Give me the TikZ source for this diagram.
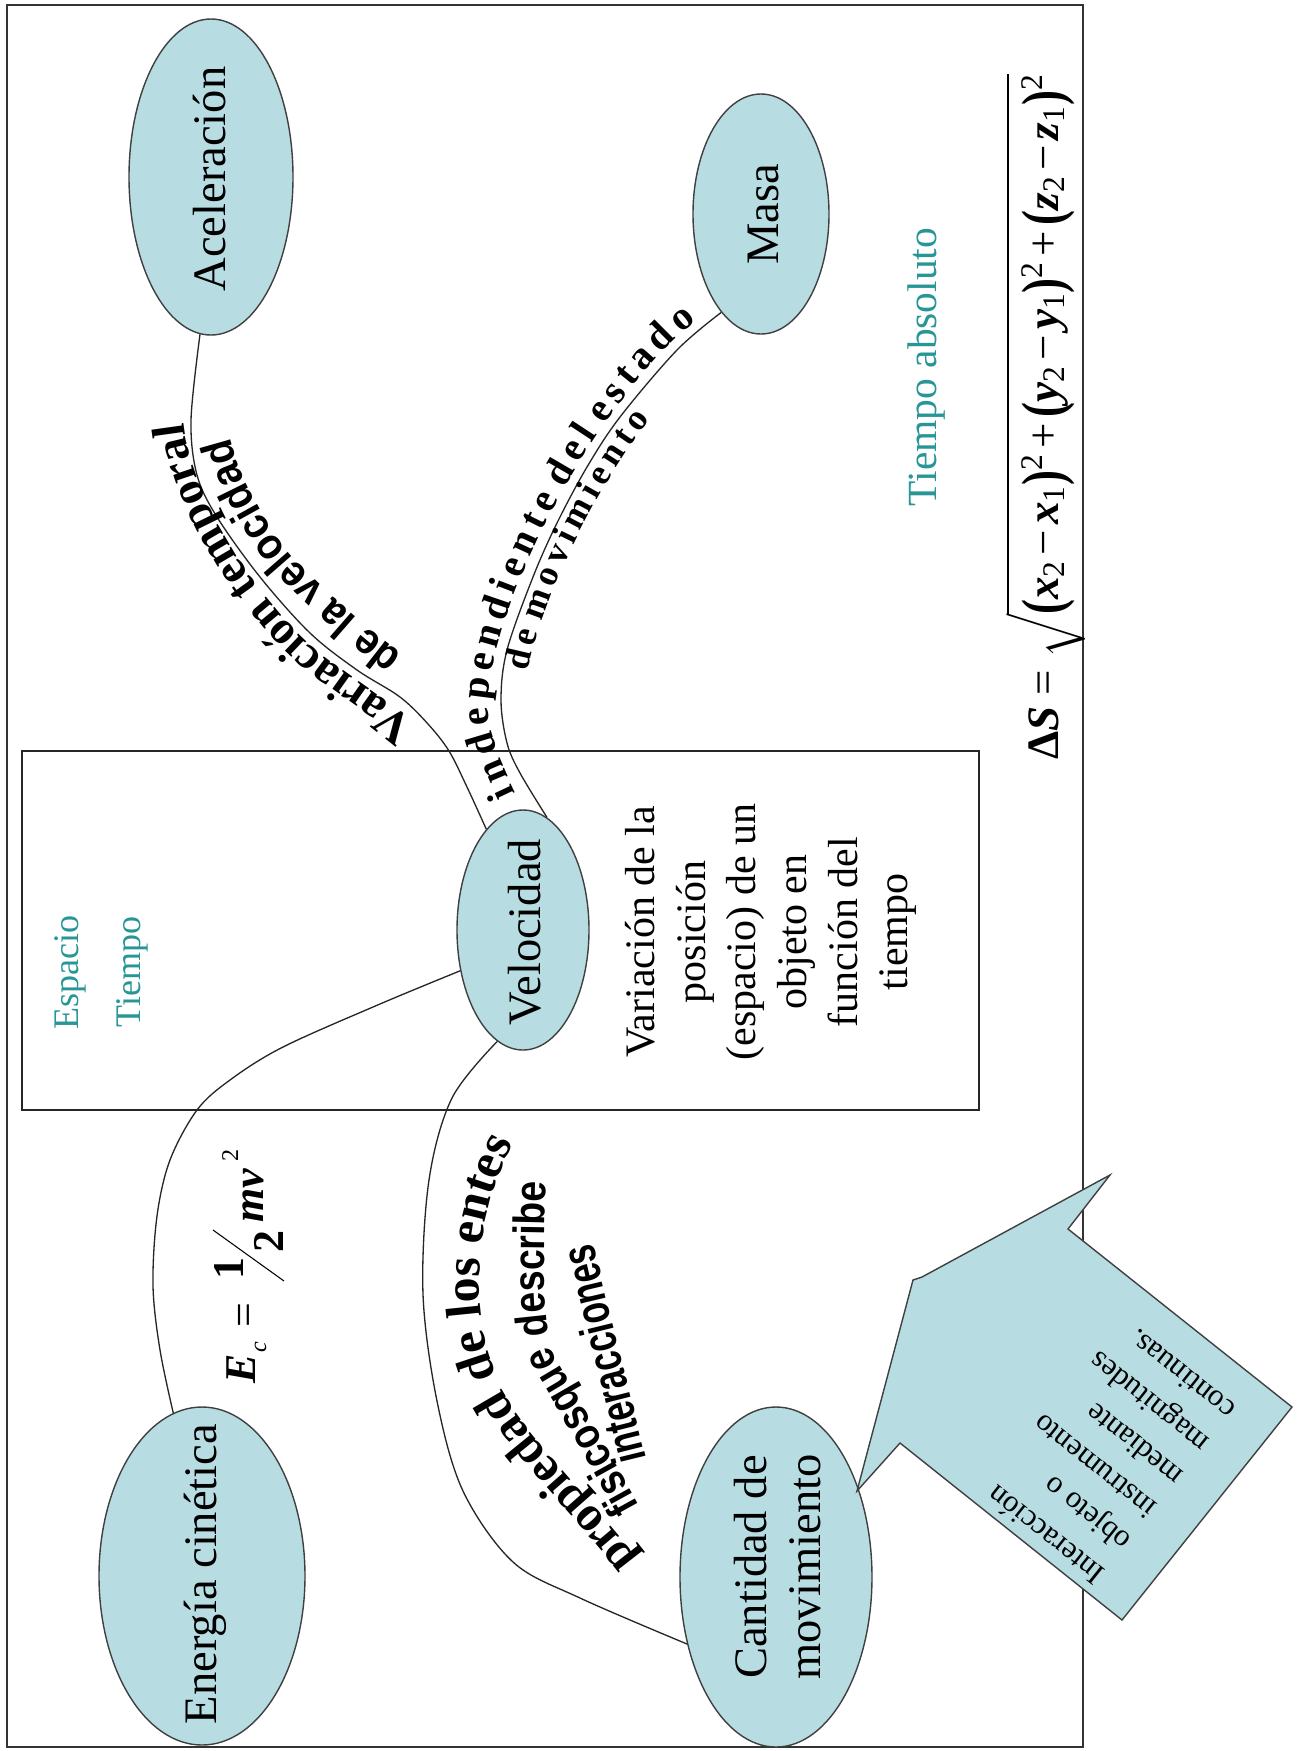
\documentclass[tikz,border=0pt]{standalone}
\usepackage{amsmath}
\usepackage{graphicx}
\usepackage{fontspec}
\setmainfont{Liberation Serif}
\newfontfamily\labsans{Liberation Sans}[FakeStretch=0.9]
\newfontfamily\labnarrow{Liberation Sans}[FakeStretch=0.85]
\newfontfamily\labcond{Liberation Sans}[FakeStretch=0.72]
\newfontfamily\labspaced{Liberation Serif}[WordSpace=0.6]
\usetikzlibrary{shapes.geometric,decorations.text}

\definecolor{bubblefill}{RGB}{183,221,227}
\definecolor{tealtext}{RGB}{40,150,150}
\newdimen\pxu \pxu=0.2mm

% font sizes (1 unit = 0.2mm)
\newcommand\ellfont{\fontsize{26.5pt}{30.7pt}\selectfont}
\newcommand\descfont{\fontsize{23.9pt}{28.8pt}\selectfont}
\newcommand\axisfont{\fontsize{20.5pt}{24pt}\selectfont}
\newcommand\absfont{\fontsize{23.6pt}{28pt}\selectfont}
\newcommand\labA{\fontsize{26.7pt}{30pt}\selectfont\bfseries}
\newcommand\labB{\labsans\fontsize{25pt}{30pt}\selectfont\bfseries}
\newcommand\labC{\labspaced\fontsize{22.8pt}{27pt}\selectfont\bfseries}
\newcommand\labD{\labspaced\fontsize{20.5pt}{24pt}\selectfont\bfseries}
\newcommand\labE{\fontsize{28.4pt}{32pt}\selectfont\bfseries}
\newcommand\labF{\labnarrow\fontsize{25pt}{30pt}\selectfont\bfseries}
\newcommand\labG{\labcond\fontsize{27.3pt}{32pt}\selectfont\bfseries}
\newcommand\calloutfont{\fontsize{17.6pt}{23.9pt}\selectfont}
\newcommand\eqfont{\fontsize{25pt}{30pt}\selectfont}
\newcommand\eqsmall{\fontsize{13.7pt}{16pt}\selectfont}
\newcommand\distfont{\fontsize{25.6pt}{30pt}\selectfont}
\newcommand\boldvar[1]{\textbf{\textit{#1}}}
\newcommand\tallparen[1]{\raisebox{-0.1em}{\scalebox{1}[1.3]{\bfseries #1}}}
\newcommand\opgap{\kern0.12em}

\begin{document}
\begin{tikzpicture}[x=0.2mm, y=-0.2mm,
  bubble/.style={ellipse, draw=black!75, line width=0.8pt, fill=bubblefill, inner sep=0},
  link/.style={draw=black!85, line width=0.75pt},
  rot/.style={rotate=90, inner sep=0},
  curvetext/.style={decorate, decoration={text along path, text align=center, text={#1}}}]

\useasboundingbox (0,0) rectangle (1302,1751);
\fill[white] (0,0) rectangle (1302,1751);

% frames
\draw[line width=1.3pt, black!80] (7,5) rectangle (1083,1747);
\draw[line width=1.1pt, black!85] (22,751) rectangle (979,1110);

% concept ellipses
\node[bubble, minimum width=164\pxu, minimum height=316\pxu] (acel) at (211,177) {};
\node[bubble, minimum width=136\pxu, minimum height=240\pxu] (masa) at (761,214) {};
\node[bubble, minimum width=132\pxu, minimum height=240\pxu] (vel) at (523,930) {};
\node[bubble, minimum width=206\pxu, minimum height=338\pxu] (ener) at (202,1576) {};
\node[bubble, minimum width=192\pxu, minimum height=340\pxu] (cant) at (776,1577) {};

% connectors
\draw[link] plot[smooth, tension=0.55] coordinates {(acel.-94) (191,420) (197,475) (217,517) (260,577) (310,633) (357,670) (400,697) (428,724) (449,751) (467,787) (vel.110)};
\draw[link] plot[smooth, tension=0.55] coordinates {(vel.78) (520,773) (507,743) (501,700) (507,650) (533,577) (557,523) (587,467) (620,417) (677,350) (masa.-112)};
\draw[link] plot[smooth, tension=0.55] coordinates {(vel.213) (380,1004) (283,1047) (230,1080) (197,1110) (170,1160) (157,1216) (153,1286) (160,1350) (ener.100)};
\draw[link] plot[smooth, tension=0.55] coordinates {(vel.-103) (452,1098) (429,1180) (423,1294) (437,1401) (463,1491) (513,1562) (580,1598) (cant.217)};

% texts inside the ellipses
\node[rot, font=\ellfont] at (209.5,179) {Aceleración};
\node[rot, font=\ellfont] at (763.5,214.5) {Masa};
\node[rot, font=\ellfont] at (525,932) {Velocidad};
\node[rot, font=\ellfont] at (205.5,1574) {Energía cinética};
\node[rot, font=\ellfont, align=center] at (778,1567) {Cantidad de\\movimiento};

% labels along the connectors
\path[curvetext={|\labA|Variación temporal}] (425,733) .. controls (393,701) and (336,670) .. (304,639) .. controls (246,584) and (183,480) .. (183,410);
\path[curvetext={|\labB|de la velocidad}] (412,662) .. controls (379,639) and (316,584) .. (290,554) .. controls (264,524) and (230,460) .. (229,425);
\path[curvetext={|\labC|i n d e p e n d i e n t e {\ }d e l {\ }e s t a d o}] (522,806) .. controls (503,766) and (484,730) .. (489,690) .. controls (505,561) and (624,367) .. (708,313);
\path[curvetext={|\labD|d e {\ }m o v i m i e n t o}] (525,688) .. controls (538,599) and (603,475) .. (660,406);
\path[curvetext={|\labE|propiedad de los entes}] (652,1582) .. controls (624,1529) and (527,1443) .. (502,1388) .. controls (460,1300) and (480,1180) .. (530,1122);
\path[curvetext={|\labF|fisicosque describe}] (641,1510) .. controls (620,1472) and (575,1390) .. (556,1360) .. controls (540,1335) and (545,1230) .. (546,1178);
\path[curvetext={|\labG|interacciones}] (648,1466) .. controls (632,1400) and (608,1310) .. (592,1235);

% free texts
\node[rot, anchor=west, font=\axisfont, text=tealtext] (espacio) at (70.5,1030) {Espacio};
\node[rot, anchor=west, font=\axisfont, text=tealtext] (tiempo) at (132.5,1028) {Tiempo};
\node[rot, font=\absfont, text=tealtext] (absoluto) at (927,367) {Tiempo absoluto};
\node[rot, font=\descfont, align=center] (desc) at (771,932) {Variación de la\\posición\\(espacio) de un\\objeto en\\función del\\tiempo};

% kinetic energy formula
\node[rot, anchor=base west, font=\eqfont] (ecE) at (255,1384) {\bfseries\itshape E};
\node[rot, anchor=base west, font=\eqsmall] (ecc) at (266,1353) {\itshape c};
\node[rot, font=\eqfont] (eceq) at (248,1315) {=};
\node[rot, anchor=base west, font=\eqfont] (econe) at (243,1280) {\bfseries 1};
\node[rot, anchor=base west, font=\eqfont] (ectwo) at (283,1253) {\bfseries 2};
\coordinate (slashlow) at (284,1281);
\coordinate (slashhigh) at (213,1230);
\draw[line width=0.6pt] (slashlow) -- (slashhigh);
\node[rot, anchor=base west, font=\eqfont] (ecmv) at (263,1223) {\bfseries\itshape mv};
\node[rot, anchor=base west, font=\eqsmall] (ecsq) at (238,1162) {2};

% distance formula
\node[rot, anchor=base west, font=\distfont] (dist) at (1058,760) {\textbf{Δ}\boldvar{S} = $\sqrt{\text{\tallparen{(}\boldvar{x}\textsubscript{2}\opgap−\opgap\boldvar{x}\textsubscript{1}\tallparen{)}\textsuperscript{2}\opgap+\opgap\tallparen{(}\boldvar{y}\textsubscript{2}\opgap−\opgap\boldvar{y}\textsubscript{1}\tallparen{)}\textsuperscript{2}\opgap+\opgap\tallparen{(}\boldvar{z}\textsubscript{2}\opgap−\opgap\boldvar{z}\textsubscript{1}\tallparen{)}\textsuperscript{2}}}$};

% callout
\draw[fill=bubblefill, draw=black!75, line width=0.8pt] (1068,1229) -- (1292,1407) -- (1122,1620) -- (900,1443) -- (857,1491) -- (913,1280) -- (922,1277) -- (1110,1175) -- cycle;
\node[rotate=141.5, anchor=north west, inner sep=0, align=left, font=\calloutfont] (note) at (1093,1588) {Interacción\\objeto o\\instrumento\\mediante\\magnitudes\\continuas.};

\end{tikzpicture}
\end{document}
